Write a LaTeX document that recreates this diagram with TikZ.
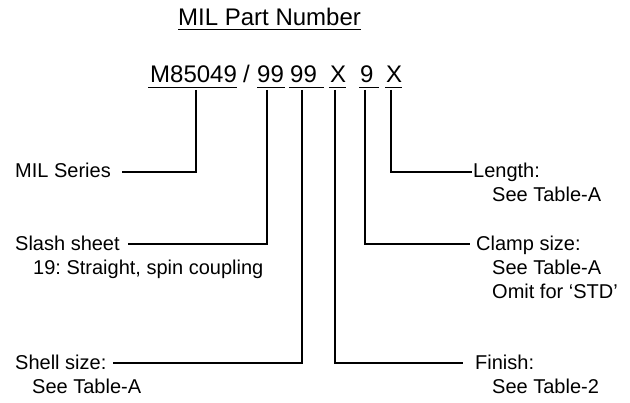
\documentclass[tikz,border=0pt]{standalone}
\usepackage{fontspec}
\setmainfont{Liberation Sans}
\frenchspacing
\begin{document}
\begin{tikzpicture}[x=1pt,y=-1pt,
  lbl/.style={anchor=base west, inner sep=0pt, font=\fontsize{20}{24}\selectfont},
  big/.style={anchor=base west, inner sep=0pt, font=\fontsize{24}{28}\selectfont},
  ul/.style={line width=1.5pt},
  lead/.style={line width=1.25pt}]
\useasboundingbox (0,0) rectangle (630,403);
% title
\node[big] (title) at (178,26) {MIL Part Number};
\draw[ul] ([yshift=-3.5pt]title.base west) -- ([yshift=-3.5pt]title.base east);
% part number segments
\node[big] (p1) at (150,83) {M85049};
\node[big] (p2) at (243,83) {/};
\node[big] (p3) at (257,83) {99};
\node[big] (p4) at (290,83) {99};
\node[big] (p5) at (330,83) {X};
\node[big] (p6) at (360,83) {9};
\node[big] (p7) at (386,83) {X};
\draw[ul] ([xshift=-2pt,yshift=-4.5pt]p1.base west) -- ([yshift=-4.5pt]p1.base east);
\draw[ul] ([yshift=-4.5pt]p3.base west) -- ([xshift=1pt,yshift=-4.5pt]p3.base east);
\draw[ul] ([xshift=-1pt,yshift=-4.5pt]p4.base west) -- ([xshift=7pt,yshift=-4.5pt]p4.base east);
\draw[ul] ([xshift=-1pt,yshift=-4.5pt]p5.base west) -- ([yshift=-4.5pt]p5.base east);
\draw[ul] ([xshift=-1pt,yshift=-4.5pt]p6.base west) -- ([xshift=5pt,yshift=-4.5pt]p6.base east);
\draw[ul] ([xshift=-1pt,yshift=-4.5pt]p7.base west) -- ([yshift=-4.5pt]p7.base east);
% labels left
\node[lbl] (ms) at (15,178) {MIL Series};
\node[lbl] (ss) at (15,251) {Slash sheet};
\node[lbl] (ss2) at (33,275) {19: Straight, spin coupling};
\node[lbl] (sh) at (15,370) {Shell size:};
\node[lbl] (sh2) at (32,394) {See Table-A};
% labels right
\node[lbl] (le) at (473,178) {Length:};
\node[lbl] (le2) at (492,202) {See Table-A};
\node[lbl] (cl) at (476,251) {Clamp size:};
\node[lbl] (cl2) at (492,275) {See Table-A};
\node[lbl] (cl3) at (492,299) {Omit for ‘STD’};
\node[lbl] (fi) at (475,370) {Finish:};
\node[lbl] (fi2) at (492,394) {See Table-2};
% leader tops
\coordinate (v1) at (196,90);
\coordinate (v3) at (267,90);
\coordinate (v4) at (302,90);
\coordinate (v5) at (335,90);
\coordinate (v6) at (365,90);
\coordinate (v7) at (391,90);
% leader ends
\coordinate (e1) at (122,172);
\coordinate (e3) at (128,244);
\coordinate (e4) at (113,363);
\coordinate (e5) at (463,363);
\coordinate (e6) at (470,244);
\coordinate (e7) at (472,172);
\draw[lead] (v1) |- (e1);
\draw[lead] (v3) |- (e3);
\draw[lead] (v4) |- (e4);
\draw[lead] (v5) |- (e5);
\draw[lead] (v6) |- (e6);
\draw[lead] (v7) |- (e7);
\end{tikzpicture}
\end{document}
